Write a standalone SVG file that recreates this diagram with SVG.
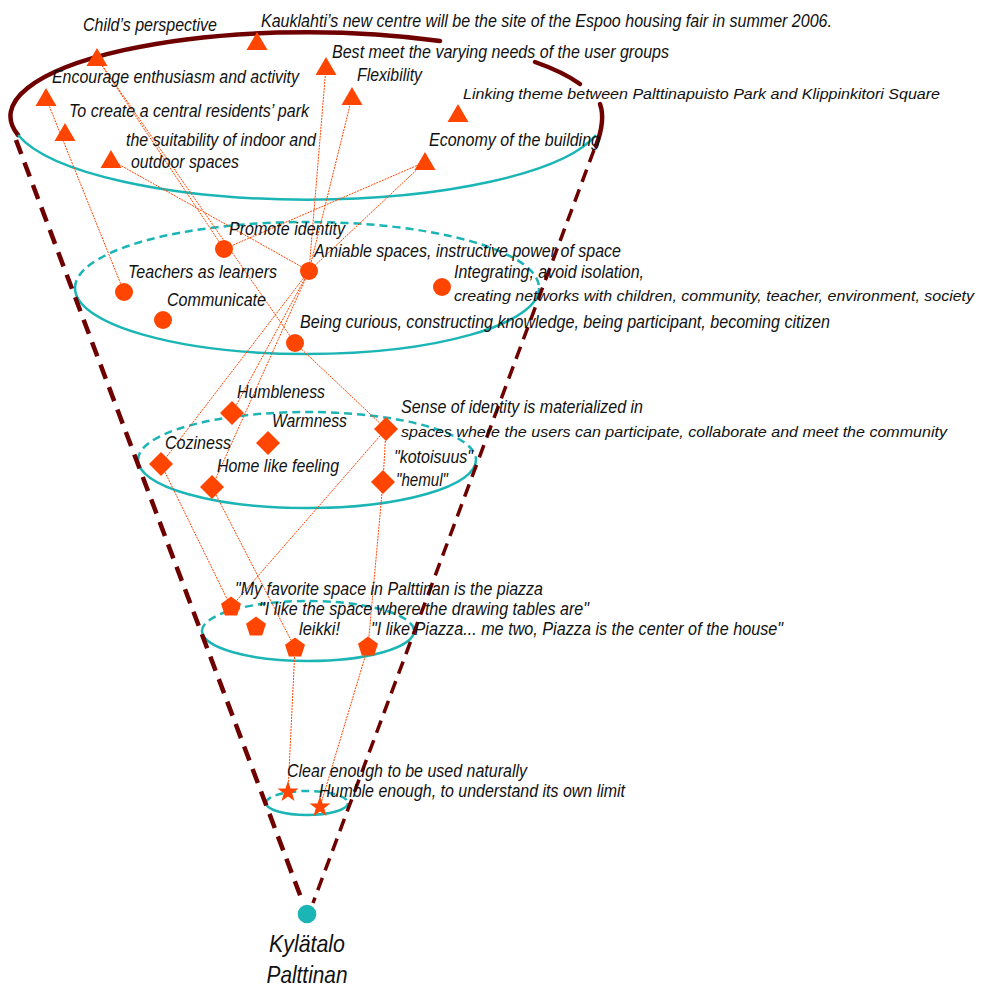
<svg xmlns="http://www.w3.org/2000/svg" width="981" height="987" viewBox="0 0 981 987">
<style>
text{font-family:"Liberation Sans",Arial,sans-serif;font-style:italic;font-size:18px;fill:#111}
text.sm{font-size:15.5px}
text.xs{font-size:14.5px}
.big{font-size:24px;text-anchor:middle}
.mk{fill:#FF4500}
.ringF{fill:none;stroke:#1BB5B5;stroke-width:2.5}
.ringB{fill:none;stroke:#1BB5B5;stroke-width:2.5;stroke-dasharray:8 5}
.dark{fill:none;stroke:#6E0000;stroke-width:4.5;stroke-linecap:round}
.cone{fill:none;stroke:#6E0000;stroke-width:4.5;stroke-dasharray:15 9}
.cone2{fill:none;stroke:#6E0000;stroke-width:3.5;stroke-dasharray:13 8}
#connectors line{stroke:#FF4500;stroke-width:1;stroke-dasharray:2 1}
</style>
<defs>
<polygon id="tri" points="0,-10 10.5,8 -10.5,8"/>
<circle id="dot" r="9"/>
<polygon id="dia" points="0,-12 12,0 0,12 -12,0"/>
<polygon id="pent" points="0,-10.5 9.99,-3.24 6.17,8.49 -6.17,8.49 -9.99,-3.24"/>
<polygon id="star" points="0,-11 2.59,-3.56 10.46,-3.4 4.18,1.36 6.47,8.9 0,4.4 -6.47,8.9 -4.18,1.36 -10.46,-3.4 -2.59,-3.56"/>
</defs>
<rect width="981" height="987" fill="#fff"/>
<g id="rings">
<path class="dark" d="M18,135 A297,84 0 0 1 440,41"/>
<path class="dark" d="M535,62 A297,84 0 0 1 580,84"/>
<path class="dark" d="M600,104 C604,115 602,130 596,146"/>
<path class="ringF" d="M18,135 A297,84 0 0 0 596,135"/>
<path class="ringB" d="M75,288 A232,66 0 0 1 539,288"/>
<path class="ringF" d="M75,288 A232,66 0 0 0 539,288"/>
<path class="ringB" d="M138,460 A169,48 0 0 1 476,460"/>
<path class="ringF" d="M138,460 A169,48 0 0 0 476,460"/>
<path class="ringB" d="M202,631 A106,30 0 0 1 414,631"/>
<path class="ringF" d="M202,631 A106,30 0 0 0 414,631"/>
<path class="ringB" d="M266,803 A41,12 0 0 1 348,803"/>
<path class="ringF" d="M266,803 A41,12 0 0 0 348,803"/>
<line class="cone" x1="16" y1="140" x2="303" y2="903"/>
<line class="cone2" x1="594" y1="150" x2="313" y2="903"/>
</g>
<g id="connectors">
<line x1="97" y1="58" x2="224" y2="249"/>
<line x1="97" y1="58" x2="295" y2="343"/>
<line x1="46" y1="98" x2="124" y2="292"/>
<line x1="111" y1="160" x2="309" y2="271"/>
<line x1="425" y1="162" x2="224" y2="249"/>
<line x1="425" y1="162" x2="309" y2="271"/>
<line x1="326" y1="67" x2="309" y2="271"/>
<line x1="352" y1="97" x2="309" y2="271"/>
<line x1="309" y1="271" x2="161" y2="464"/>
<line x1="309" y1="271" x2="232" y2="413"/>
<line x1="309" y1="271" x2="212" y2="487"/>
<line x1="295" y1="343" x2="386" y2="429"/>
<line x1="161" y1="464" x2="231" y2="607"/>
<line x1="386" y1="429" x2="231" y2="607"/>
<line x1="386" y1="429" x2="383" y2="482"/>
<line x1="212" y1="487" x2="295" y2="648"/>
<line x1="383" y1="482" x2="368" y2="647"/>
<line x1="295" y1="648" x2="288" y2="792"/>
<line x1="368" y1="647" x2="320" y2="807"/>
</g>
<g id="n-child"><use href="#tri" class="mk" x="97" y="58"/><text x="83" y="31" textLength="134" lengthAdjust="spacingAndGlyphs">Child’s perspective</text></g>
<g id="n-kauklahti"><use href="#tri" class="mk" x="257" y="42"/><text x="261" y="27" textLength="571" lengthAdjust="spacingAndGlyphs">Kauklahti’s new centre will be the site of the Espoo housing fair in summer 2006.</text></g>
<g id="n-bestmeet"><use href="#tri" class="mk" x="326" y="67"/><text x="332" y="58" textLength="337" lengthAdjust="spacingAndGlyphs">Best meet the varying needs of the user groups</text></g>
<g id="n-encourage"><use href="#tri" class="mk" x="46" y="98"/><text x="52" y="83" textLength="247" lengthAdjust="spacingAndGlyphs">Encourage enthusiasm and activity</text></g>
<g id="n-flexibility"><use href="#tri" class="mk" x="352" y="97"/><text x="357" y="81" textLength="65" lengthAdjust="spacingAndGlyphs">Flexibility</text></g>
<g id="n-linking"><use href="#tri" class="mk" x="458" y="114"/><text class="sm" x="463" y="99" textLength="477" lengthAdjust="spacingAndGlyphs">Linking theme between Palttinapuisto Park and Klippinkitori Square</text></g>
<g id="n-park"><use href="#tri" class="mk" x="65" y="133"/><text x="69" y="117" textLength="240" lengthAdjust="spacingAndGlyphs">To create a central residents’ park</text></g>
<g id="n-suitability"><use href="#tri" class="mk" x="111" y="160"/><text x="126" y="146" textLength="190" lengthAdjust="spacingAndGlyphs">the suitability of indoor and</text><text x="131" y="168" textLength="108" lengthAdjust="spacingAndGlyphs">outdoor spaces</text></g>
<g id="n-economy"><use href="#tri" class="mk" x="425" y="162"/><text x="429" y="146" textLength="171" lengthAdjust="spacingAndGlyphs">Economy of the building</text></g>
<g id="n-promote"><use href="#dot" class="mk" x="224" y="249"/><text x="229" y="235" textLength="116" lengthAdjust="spacingAndGlyphs">Promote identity</text></g>
<g id="n-amiable"><use href="#dot" class="mk" x="309" y="271"/><text x="314" y="257" textLength="307" lengthAdjust="spacingAndGlyphs">Amiable spaces, instructive power of space</text></g>
<g id="n-teachers"><use href="#dot" class="mk" x="124" y="292"/><text x="128" y="278" textLength="149" lengthAdjust="spacingAndGlyphs">Teachers as learners</text></g>
<g id="n-communicate"><use href="#dot" class="mk" x="163" y="320"/><text x="167" y="306" textLength="99" lengthAdjust="spacingAndGlyphs">Communicate</text></g>
<g id="n-curious"><use href="#dot" class="mk" x="295" y="343"/><text x="300" y="328" textLength="530" lengthAdjust="spacingAndGlyphs">Being curious, constructing knowledge, being participant, becoming citizen</text></g>
<g id="n-integrating"><use href="#dot" class="mk" x="442" y="287"/><text x="454" y="278" textLength="190" lengthAdjust="spacingAndGlyphs">Integrating, avoid isolation,</text><text class="xs" x="454" y="301" textLength="520" lengthAdjust="spacingAndGlyphs">creating networks with children, community, teacher, environment, society</text></g>
<g id="n-humbleness"><use href="#dia" class="mk" x="232" y="413"/><text x="237" y="398" textLength="88" lengthAdjust="spacingAndGlyphs">Humbleness</text></g>
<g id="n-warmness"><use href="#dia" class="mk" x="268" y="443"/><text x="272" y="427" textLength="75" lengthAdjust="spacingAndGlyphs">Warmness</text></g>
<g id="n-identity"><use href="#dia" class="mk" x="386" y="429"/><text x="401" y="413" textLength="242" lengthAdjust="spacingAndGlyphs">Sense of identity is materialized in</text><text class="sm" x="401" y="437" textLength="546" lengthAdjust="spacingAndGlyphs">spaces where the users can participate, collaborate and meet the community</text></g>
<g id="n-coziness"><use href="#dia" class="mk" x="161" y="464"/><text x="165" y="449" textLength="66" lengthAdjust="spacingAndGlyphs">Coziness</text></g>
<g id="n-homelike"><use href="#dia" class="mk" x="212" y="487"/><text x="217" y="472" textLength="122" lengthAdjust="spacingAndGlyphs">Home like feeling</text></g>
<g id="n-hemul"><use href="#dia" class="mk" x="383" y="482"/><text x="394" y="463" textLength="79" lengthAdjust="spacingAndGlyphs">"kotoisuus"</text><text x="396" y="486" textLength="52" lengthAdjust="spacingAndGlyphs">"hemul"</text></g>
<g id="n-favorite"><use href="#pent" class="mk" x="231" y="607"/><text x="235" y="595" textLength="308" lengthAdjust="spacingAndGlyphs">"My favorite space in Palttinan is the piazza</text></g>
<g id="n-drawing"><use href="#pent" class="mk" x="256" y="627"/><text x="259" y="615" textLength="330" lengthAdjust="spacingAndGlyphs">"I like the space where the drawing tables are"</text></g>
<g id="n-leikki"><use href="#pent" class="mk" x="295" y="648"/><text x="299" y="635" textLength="41" lengthAdjust="spacingAndGlyphs">leikki!</text></g>
<g id="n-piazza"><use href="#pent" class="mk" x="368" y="647"/><text x="371" y="635" textLength="412" lengthAdjust="spacingAndGlyphs">"I like Piazza... me two, Piazza is the center of the house"</text></g>
<g id="n-clear"><use href="#star" class="mk" x="288" y="792"/><text x="287" y="777" textLength="240" lengthAdjust="spacingAndGlyphs">Clear enough to be used naturally</text></g>
<g id="n-humble"><use href="#star" class="mk" x="320" y="807"/><text x="319" y="797" textLength="306" lengthAdjust="spacingAndGlyphs">Humble enough, to understand its own limit</text></g>
<g id="n-base"><circle cx="307" cy="914" r="9.3" fill="#1BB5B5"/><text class="big" x="307" y="952" textLength="76" lengthAdjust="spacingAndGlyphs">Kylätalo</text><text class="big" x="307" y="983" textLength="81" lengthAdjust="spacingAndGlyphs">Palttinan</text></g>
</svg>
